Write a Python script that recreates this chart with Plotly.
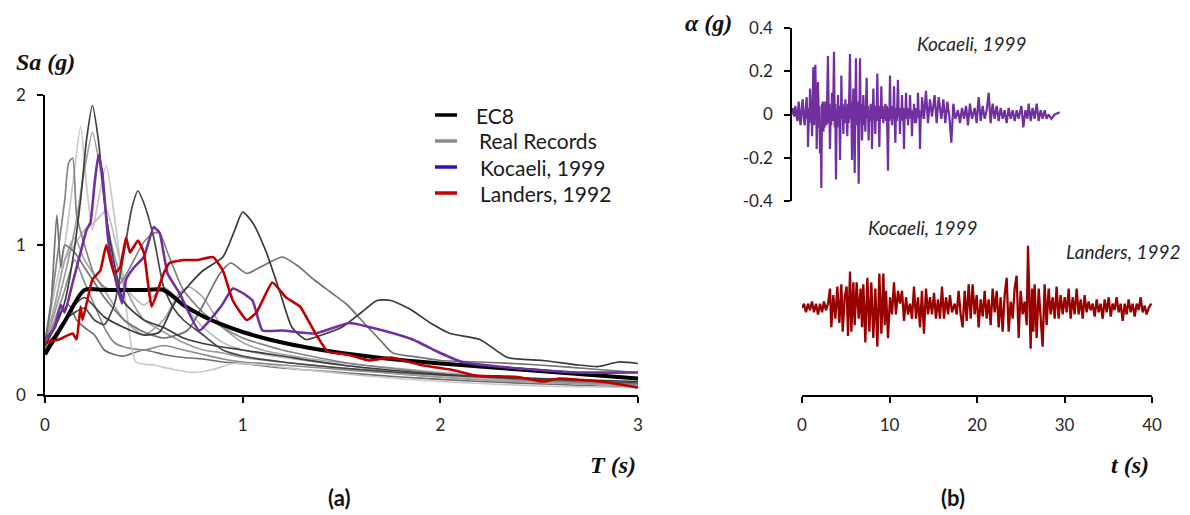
import plotly.graph_objects as go

# ---------------- Panel (a): elastic response spectra ----------------
# EC8 design spectrum
T_EC8 = [0, 0.1, 0.2, 0.3, 0.4, 0.5, 0.6, 0.7, 0.8, 0.9, 1.0, 1.1, 1.2, 1.3, 1.4, 1.5,
         1.6, 1.7, 1.8, 1.9, 2.0, 2.2, 2.4, 2.6, 2.8, 3.0]
SA_EC8 = [0.27, 0.49, 0.70, 0.70, 0.70, 0.70, 0.70, 0.60, 0.525, 0.467, 0.42, 0.382, 0.35,
          0.323, 0.30, 0.28, 0.263, 0.247, 0.233, 0.221, 0.21, 0.19, 0.17, 0.15, 0.13, 0.11]

# Real records (grey family)
REC1_T = [0, 0.05, 0.1, 0.14, 0.18, 0.21, 0.24, 0.27, 0.3, 0.34, 0.4, 0.5, 0.6, 0.7, 0.85,
          1.0, 1.2, 1.5, 1.8, 2.1, 2.5, 3.0]
REC1_SA = [0.33, 0.45, 0.62, 0.9, 1.3, 1.7, 1.93, 1.7, 1.3, 0.95, 0.62, 0.5, 0.45, 0.38, 0.33,
           0.3, 0.26, 0.2, 0.16, 0.13, 0.11, 0.09]

REC2_T = [0, 0.05, 0.1, 0.15, 0.2, 0.25, 0.3, 0.35, 0.4, 0.44, 0.47, 0.5, 0.55, 0.6, 0.65,
          0.7, 0.8, 0.9, 1.0, 1.2, 1.5, 1.8, 2.2, 2.6, 3.0]
REC2_SA = [0.33, 0.4, 0.5, 0.55, 0.58, 0.5, 0.47, 0.6, 0.95, 1.25, 1.36, 1.28, 1.05, 0.72,
           0.58, 0.5, 0.4, 0.3, 0.26, 0.22, 0.18, 0.15, 0.12, 0.1, 0.08]

REC3_T = [0, 0.05, 0.1, 0.15, 0.2, 0.3, 0.4, 0.5, 0.58, 0.65, 0.72, 0.8, 0.9, 0.96, 1.0,
          1.05, 1.12, 1.19, 1.25, 1.32, 1.4, 1.5, 1.6, 1.68, 1.75, 1.85, 1.95, 2.05, 2.2,
          2.34, 2.52, 2.7, 2.8, 2.9, 3.0]
REC3_SA = [0.3, 0.4, 0.5, 0.6, 0.65, 0.52, 0.45, 0.4, 0.42, 0.6, 0.72, 0.83, 0.92, 1.1, 1.22,
           1.15, 0.95, 0.68, 0.45, 0.37, 0.4, 0.45, 0.55, 0.63, 0.63, 0.57, 0.48, 0.41, 0.37,
           0.25, 0.23, 0.2, 0.19, 0.22, 0.21]

REC4_T = [0, 0.03, 0.06, 0.08, 0.1, 0.15, 0.2, 0.25, 0.3, 0.4, 0.5, 0.6, 0.72, 0.8, 0.88,
          0.94, 1.02, 1.1, 1.2, 1.28, 1.36, 1.45, 1.53, 1.6, 1.7, 1.76, 1.9, 2.0, 2.2, 2.5,
          2.8, 3.0]
REC4_SA = [0.35, 0.6, 1.2, 0.85, 1.0, 0.95, 0.85, 0.75, 0.65, 0.5, 0.42, 0.38, 0.43, 0.6,
           0.8, 0.88, 0.81, 0.86, 0.92, 0.86, 0.77, 0.68, 0.6, 0.5, 0.36, 0.28, 0.25, 0.23,
           0.22, 0.2, 0.17, 0.15]

REC5_T = [0, 0.04, 0.07, 0.1, 0.12, 0.14, 0.16, 0.2, 0.25, 0.3, 0.35, 0.4, 0.45, 0.5, 0.55,
          0.58, 0.62, 0.7, 0.8, 0.9, 1.0, 1.2, 1.5, 1.8, 2.2, 2.6, 3.0]
REC5_SA = [0.35, 0.7, 1.0, 1.3, 1.55, 1.58, 1.2, 1.0, 0.8, 0.72, 0.7, 0.78, 0.9, 1.02, 1.08,
           1.08, 0.95, 0.7, 0.55, 0.45, 0.38, 0.3, 0.22, 0.17, 0.12, 0.09, 0.07]

REC6_T = [0, 0.05, 0.1, 0.15, 0.2, 0.24, 0.28, 0.32, 0.38, 0.45, 0.5, 0.6, 0.7, 0.8, 0.9,
          1.0, 1.2, 1.5, 1.8, 2.2, 2.6, 3.0]
REC6_SA = [0.35, 0.55, 0.8, 1.1, 1.5, 1.75, 1.5, 1.1, 0.8, 0.6, 0.5, 0.42, 0.35, 0.3, 0.28,
           0.25, 0.22, 0.18, 0.14, 0.1, 0.08, 0.06]

REC7_T = [0, 0.05, 0.1, 0.14, 0.18, 0.21, 0.24, 0.27, 0.31, 0.35, 0.4, 0.46, 0.55, 0.65,
          0.75, 0.85, 0.95, 1.1, 1.3, 1.6, 2.0, 2.5, 3.0]
REC7_SA = [0.36, 0.7, 1.0, 1.4, 1.79, 1.4, 1.1, 1.3, 1.53, 1.2, 0.7, 0.22, 0.2, 0.17, 0.15,
           0.17, 0.21, 0.2, 0.17, 0.13, 0.09, 0.06, 0.05]

REC8_T = [0, 0.05, 0.1, 0.15, 0.2, 0.25, 0.31, 0.36, 0.42, 0.5, 0.6, 0.7, 0.8, 0.9, 1.0,
          1.2, 1.5, 1.8, 2.2, 2.6, 3.0]
REC8_SA = [0.35, 0.6, 0.9, 1.0, 1.1, 1.15, 1.23, 1.0, 0.7, 0.6, 0.72, 0.6, 0.45, 0.35, 0.3,
           0.25, 0.2, 0.15, 0.11, 0.08, 0.06]

REC9_T = [0, 0.05, 0.1, 0.15, 0.2, 0.25, 0.3, 0.35, 0.4, 0.5, 0.6, 0.7, 0.8, 0.9, 1.0, 1.2,
          1.4, 1.7, 2.0, 2.5, 3.0]
REC9_SA = [0.34, 0.5, 0.7, 0.9, 0.75, 0.6, 0.45, 0.35, 0.32, 0.3, 0.33, 0.3, 0.27, 0.24,
           0.22, 0.2, 0.18, 0.15, 0.12, 0.09, 0.07]

REC10_T = [0, 0.05, 0.1, 0.15, 0.2, 0.3, 0.4, 0.5, 0.6, 0.68, 0.73, 0.8, 0.9, 1.0, 1.1, 1.3,
           1.6, 2.0, 2.5, 3.0]
REC10_SA = [0.34, 0.6, 0.9, 1.05, 0.9, 0.7, 0.5, 0.4, 0.5, 0.68, 0.72, 0.65, 0.45, 0.35,
            0.3, 0.25, 0.2, 0.15, 0.1, 0.07]

REC11_T = [0, 0.04, 0.08, 0.12, 0.16, 0.2, 0.25, 0.3, 0.35, 0.4, 0.5, 0.6, 0.7, 0.8, 0.9,
           1.0, 1.2, 1.5, 1.8, 2.2, 2.6, 3.0]
REC11_SA = [0.32, 0.45, 0.55, 0.6, 0.5, 0.45, 0.4, 0.3, 0.27, 0.26, 0.3, 0.27, 0.25, 0.24,
            0.22, 0.21, 0.18, 0.15, 0.12, 0.09, 0.07, 0.05]

# Kocaeli 1999 spectrum
T_KOC = [0, 0.05, 0.08, 0.1, 0.14, 0.18, 0.21, 0.23, 0.25, 0.27, 0.29, 0.32, 0.35, 0.39,
         0.41, 0.45, 0.5, 0.55, 0.58, 0.62, 0.68, 0.78, 0.89, 0.95, 1.0, 1.05, 1.1, 1.2,
         1.37, 1.54, 1.71, 1.86, 2.0, 2.11, 2.37, 2.7, 3.0]
SA_KOC = [0.37, 0.45, 0.6, 0.55, 0.75, 0.95, 1.1, 1.15, 1.4, 1.6, 1.48, 1.03, 0.81, 0.61,
          0.77, 0.85, 0.92, 1.12, 1.08, 0.81, 0.68, 0.43, 0.59, 0.71, 0.68, 0.63, 0.43,
          0.43, 0.41, 0.48, 0.43, 0.37, 0.28, 0.22, 0.18, 0.15, 0.15]

# Landers 1992 spectrum
T_LAN = [0, 0.07, 0.14, 0.16, 0.18, 0.19, 0.24, 0.28, 0.31, 0.35, 0.38, 0.41, 0.43, 0.47,
         0.5, 0.54, 0.6, 0.63, 0.7, 0.77, 0.85, 0.9, 0.95, 1.02, 1.07, 1.15, 1.22, 1.29,
         1.36, 1.43, 1.53, 1.64, 1.75, 1.9, 2.05, 2.18, 2.39, 2.52, 2.6, 2.81, 3.0]
SA_LAN = [0.35, 0.37, 0.41, 0.37, 0.59, 0.5, 0.77, 0.83, 1.0, 0.81, 0.85, 1.05, 0.95,
          1.03, 0.95, 0.59, 0.81, 0.88, 0.9, 0.9, 0.92, 0.83, 0.63, 0.5, 0.55, 0.75, 0.65,
          0.59, 0.43, 0.29, 0.27, 0.23, 0.25, 0.2, 0.17, 0.13, 0.12, 0.09, 0.11, 0.09, 0.05]

# ---------------- Panel (b): acceleration time histories ----------------
# Kocaeli 1999 record, (time s, acceleration g)
KOC_ACC = [
    (0.00, 0.00), (0.15, 0.03), (0.25, -0.01), (0.38, 0.04), (0.50, 0.00), (0.61, -0.03),
    (0.70, 0.02), (0.76, 0.06), (0.88, -0.02), (0.99, -0.05), (1.10, 0.03), (1.22, 0.07),
    (1.33, -0.01), (1.45, -0.05), (1.56, 0.02), (1.68, 0.08), (1.76, -0.02), (1.80, 0.03),
    (1.83, -0.15), (1.94, 0.02), (1.99, -0.04), (2.06, 0.12), (2.17, 0.01), (2.22, 0.05),
    (2.29, -0.10), (2.37, 0.06), (2.40, -0.03), (2.44, 0.22), (2.53, -0.05), (2.60, 0.08),
    (2.67, 0.23), (2.75, 0.02), (2.78, 0.06), (2.82, -0.16), (2.90, 0.03), (2.93, -0.02),
    (2.97, 0.15), (3.08, -0.06), (3.13, 0.04), (3.20, -0.18), (3.27, -0.05), (3.31, -0.12),
    (3.35, -0.34), (3.43, 0.05), (3.47, -0.03), (3.52, 0.06), (3.60, -0.08), (3.66, 0.04),
    (3.73, -0.06), (3.80, 0.06), (3.88, -0.02), (3.94, -0.05), (4.02, 0.08), (4.11, 0.27),
    (4.20, -0.04), (4.26, 0.05), (4.34, -0.16), (4.42, 0.02), (4.48, -0.05), (4.57, 0.10),
    (4.65, -0.03), (4.72, 0.06), (4.80, 0.29), (4.88, -0.06), (4.94, 0.05), (5.03, -0.30),
    (5.11, 0.02), (5.17, -0.06), (5.26, 0.09), (5.34, -0.05), (5.41, 0.04), (5.49, -0.21),
    (5.56, 0.03), (5.60, -0.02), (5.64, 0.18), (5.72, -0.02), (5.79, 0.05), (5.87, -0.09),
    (5.95, 0.04), (6.02, -0.04), (6.10, 0.07), (6.18, -0.04), (6.25, 0.03), (6.32, -0.10),
    (6.40, 0.05), (6.48, -0.04), (6.63, 0.28), (6.71, -0.02), (6.77, 0.06), (6.86, -0.21),
    (6.93, 0.02), (6.97, -0.03), (7.01, 0.12), (7.09, -0.04), (7.12, 0.02), (7.16, -0.27),
    (7.24, 0.04), (7.27, -0.02), (7.31, 0.26), (7.39, -0.03), (7.43, 0.04), (7.47, -0.05),
    (7.53, 0.06), (7.62, -0.32), (7.70, 0.03), (7.73, -0.02), (7.77, 0.26), (7.85, -0.03),
    (7.92, 0.05), (8.00, -0.12), (8.07, 0.03), (8.11, -0.03), (8.15, 0.09), (8.24, -0.05),
    (8.30, 0.04), (8.38, -0.08), (8.46, 0.03), (8.53, 0.17), (8.61, -0.02), (8.68, 0.04),
    (8.76, -0.12), (8.84, 0.02), (8.91, -0.03), (8.99, 0.05), (9.05, -0.02), (9.09, 0.03),
    (9.14, -0.16), (9.22, 0.03), (9.26, -0.02), (9.30, 0.12), (9.38, -0.02), (9.45, 0.04),
    (9.52, -0.09), (9.60, 0.03), (9.67, -0.03), (9.75, 0.19), (9.83, -0.02), (9.90, 0.04),
    (9.98, -0.15), (10.06, 0.03), (10.13, -0.02), (10.21, 0.13), (10.29, -0.02),
    (10.36, 0.04), (10.44, -0.04), (10.52, 0.02), (10.60, -0.02), (10.67, 0.05),
    (10.76, -0.03), (10.84, 0.04), (10.97, -0.26), (11.05, 0.03), (11.12, -0.03),
    (11.20, 0.18), (11.28, -0.02), (11.35, 0.04), (11.43, -0.05), (11.50, 0.03),
    (11.58, -0.02), (11.66, 0.13), (11.72, 0.00), (11.81, -0.13), (11.90, 0.03),
    (11.98, -0.03), (12.11, 0.16), (12.20, -0.01), (12.26, 0.03), (12.34, -0.09),
    (12.42, 0.03), (12.50, -0.02), (12.57, 0.09), (12.65, -0.03), (12.72, 0.03),
    (12.80, -0.16), (12.88, 0.02), (12.95, -0.02), (13.03, 0.10), (13.11, -0.02),
    (13.18, 0.03), (13.26, -0.05), (13.36, 0.02), (13.42, -0.01), (13.49, 0.09),
    (13.58, -0.02), (13.64, 0.02), (13.71, -0.10), (13.80, 0.02), (13.87, -0.02),
    (13.94, 0.05), (14.05, -0.04), (14.10, 0.03), (14.17, -0.04), (14.28, 0.02),
    (14.33, -0.01), (14.40, 0.10), (14.50, -0.02), (14.55, 0.02), (14.63, -0.16),
    (14.72, 0.01), (14.78, -0.02), (14.86, 0.08), (15.09, -0.02), (15.31, 0.11),
    (15.54, -0.04), (15.77, 0.07), (16.00, -0.01), (16.30, 0.09), (16.53, -0.04),
    (16.76, 0.08), (17.07, -0.02), (17.30, 0.07), (17.52, -0.04), (17.75, 0.06),
    (17.98, -0.01), (18.21, -0.13), (18.44, 0.05), (18.67, -0.02), (18.97, 0.02),
    (19.20, -0.04), (19.43, 0.03), (19.66, -0.02), (19.89, 0.04), (20.11, -0.05),
    (20.34, 0.05), (20.57, -0.02), (20.88, 0.03), (21.10, -0.04), (21.33, 0.08),
    (21.56, -0.03), (21.79, 0.04), (22.02, -0.02), (22.25, 0.02), (22.48, 0.10),
    (22.70, -0.04), (22.93, 0.05), (23.16, -0.02), (23.39, 0.04), (23.62, -0.03),
    (23.85, 0.03), (24.08, -0.02), (24.30, 0.02), (24.53, -0.04), (24.76, 0.03),
    (24.99, -0.02), (25.22, 0.02), (25.45, -0.03), (25.68, 0.02), (25.90, -0.02),
    (26.21, 0.04), (26.44, -0.06), (26.67, 0.02), (26.90, -0.02), (27.05, 0.05),
    (27.28, -0.03), (27.50, 0.03), (27.73, -0.02), (27.96, 0.05), (28.19, -0.03),
    (28.42, 0.02), (28.65, -0.02), (28.88, 0.02), (29.10, -0.02), (29.33, 0.00),
    (29.64, -0.02), (30.02, 0.00), (30.59, 0.01),
]
T_KOC_ACC = [p[0] for p in KOC_ACC]
A_KOC = [p[1] for p in KOC_ACC]

# Landers 1992 record
T_LAN_ACC = [0.00, 0.23, 0.46, 0.69, 0.91, 1.14, 1.37, 1.60, 1.83, 2.06, 2.29, 2.51, 2.74,
             2.97, 3.20, 3.35, 3.58, 3.81, 4.04, 4.27, 4.50, 4.65, 4.88, 5.10, 5.26, 5.49,
             5.64, 5.87, 6.02, 6.25, 6.48, 6.70, 6.86, 7.01, 7.24, 7.47, 7.70, 7.92, 8.15,
             8.38, 8.61, 8.84, 9.07, 9.30, 9.45, 9.60, 9.83, 10.06, 10.29, 10.51, 10.74,
             10.97, 11.20, 11.43, 11.66, 11.89, 12.11, 12.34, 12.57, 12.80, 13.03, 13.26,
             13.49, 13.71, 13.94, 14.17, 14.40, 14.63, 14.86, 15.09, 15.31, 15.54, 15.77,
             16.00, 16.23, 16.46, 16.69, 16.91, 17.14, 17.45, 17.68, 17.90, 18.13, 18.36,
             18.59, 18.82, 19.05, 19.28, 19.50, 19.73, 19.96, 20.19, 20.42, 20.65, 20.88,
             21.10, 21.33, 21.56, 21.79, 22.02, 22.25, 22.48, 22.70, 22.93, 23.16, 23.39,
             23.62, 23.85, 24.08, 24.30, 24.53, 24.76, 24.99, 25.22, 25.45, 25.68, 25.83,
             25.98, 26.13, 26.29, 26.44, 26.59, 26.82, 27.05, 27.28, 27.50, 27.73, 27.96,
             28.19, 28.42, 28.65, 28.88, 29.10, 29.33, 29.56, 29.79, 30.02, 30.25, 30.48,
             30.70, 30.93, 31.16, 31.39, 31.62, 31.85, 32.08, 32.30, 32.53, 32.76, 32.99,
             33.22, 33.45, 33.68, 33.90, 34.13, 34.36, 34.59, 34.82, 35.05, 35.28, 35.50,
             35.73, 35.96, 36.19, 36.42, 36.65, 36.88, 37.10, 37.33, 37.56, 37.79, 38.02,
             38.25, 38.48, 38.70, 38.93, 39.16, 39.39, 39.62, 39.92]
A_LAN = [0.00, 0.02, -0.02, 0.02, -0.01, 0.03, -0.02, 0.02, -0.03, 0.02, -0.02, 0.03, -0.01,
         0.02, 0.09, -0.09, 0.06, -0.05, 0.10, -0.07, 0.11, -0.11, 0.05, 0.10, -0.13, 0.17,
         -0.11, 0.12, -0.08, 0.12, -0.05, 0.09, -0.09, 0.11, -0.16, 0.14, -0.11, 0.12, -0.14,
         0.09, -0.18, 0.16, -0.12, 0.16, -0.08, 0.08, -0.14, 0.05, -0.03, 0.12, -0.03, 0.08,
         0.02, 0.08, -0.06, 0.05, -0.03, 0.02, -0.05, 0.10, -0.05, 0.05, -0.09, 0.08, -0.12,
         0.09, -0.03, 0.05, -0.03, 0.07, -0.05, 0.04, -0.05, 0.10, -0.05, 0.05, -0.03, 0.06,
         -0.02, 0.02, -0.03, 0.08, -0.03, -0.09, 0.08, -0.06, 0.11, -0.05, 0.11, -0.03, 0.06,
         -0.09, 0.04, -0.04, 0.08, -0.05, 0.04, -0.08, 0.09, -0.02, 0.08, -0.09, 0.05, -0.11,
         0.06, 0.14, -0.11, 0.03, -0.05, 0.09, 0.15, -0.14, 0.08, -0.03, 0.03, -0.08, 0.29,
         -0.03, -0.19, 0.09, -0.11, 0.11, -0.14, 0.09, -0.03, -0.18, 0.11, -0.08, 0.09,
         -0.03, 0.05, -0.05, 0.10, -0.05, 0.06, -0.03, 0.05, -0.02, 0.09, -0.05, 0.05, -0.03,
         0.09, -0.03, 0.04, -0.05, 0.06, -0.02, 0.03, -0.01, 0.02, -0.04, 0.04, -0.02, 0.02,
         -0.05, 0.04, -0.02, 0.05, -0.04, 0.02, -0.01, 0.05, -0.02, 0.02, -0.06, 0.02, -0.03,
         0.04, -0.02, 0.02, -0.04, 0.02, -0.01, 0.05, -0.02, 0.01, -0.03, 0.00, 0.02]

# ---------------- styling ----------------
SANS = "Lato, Calibri, sans-serif"
SERIF_BI = "Liberation Serif, Times New Roman, serif"
TICK_FONT = dict(family=SANS, size=17, color="#262626")
W, H = 1190, 515


def px_x(p):
    return p / W


def px_y(p):
    return (H - p) / H


fig = go.Figure()

grey_records = [
    (REC11_T, REC11_SA, "#6e6e6e"),
    (REC9_T, REC9_SA, "#8c8c8c"),
    (REC7_T, REC7_SA, "#c8c8c8"),
    (REC8_T, REC8_SA, "#bdbdbd"),
    (REC10_T, REC10_SA, "#a6a6a6"),
    (REC6_T, REC6_SA, "#9e9e9e"),
    (REC5_T, REC5_SA, "#858585"),
    (REC4_T, REC4_SA, "#737373"),
    (REC2_T, REC2_SA, "#474747"),
    (REC1_T, REC1_SA, "#3d3d3d"),
    (REC3_T, REC3_SA, "#3a3a3a"),
]
for t, sa, col in grey_records:
    fig.add_trace(go.Scatter(x=t, y=sa, mode="lines", line=dict(color=col, width=1.7,
                             shape="spline", smoothing=0.6), showlegend=False,
                             xaxis="x", yaxis="y"))

fig.add_trace(go.Scatter(x=T_EC8, y=SA_EC8, mode="lines", showlegend=False,
                         line=dict(color="black", width=4, shape="spline", smoothing=0.8),
                         xaxis="x", yaxis="y"))
fig.add_trace(go.Scatter(x=T_KOC, y=SA_KOC, mode="lines", showlegend=False,
                         line=dict(color="#7030a0", width=2.6, shape="spline", smoothing=0.4),
                         xaxis="x", yaxis="y"))
fig.add_trace(go.Scatter(x=T_LAN, y=SA_LAN, mode="lines", showlegend=False,
                         line=dict(color="#c00000", width=2.6, shape="spline", smoothing=0.4),
                         xaxis="x", yaxis="y"))

# time histories
fig.add_trace(go.Scatter(x=T_KOC_ACC, y=A_KOC, mode="lines", showlegend=False,
                         line=dict(color="#7030a0", width=2.2), xaxis="x2", yaxis="y2"))
fig.add_trace(go.Scatter(x=T_LAN_ACC, y=A_LAN, mode="lines", showlegend=False,
                         line=dict(color="#990000", width=2.3), xaxis="x3", yaxis="y3"))

axis_common = dict(showgrid=False, zeroline=False, showline=True, linecolor="black",
                   linewidth=1.5, ticks="outside", ticklen=6, tickwidth=1.5,
                   tickcolor="black", tickfont=TICK_FONT, automargin=False)

fig.update_layout(
    width=W, height=H, autosize=False, margin=dict(l=0, r=0, t=0, b=0, pad=0),
    paper_bgcolor="white", plot_bgcolor="white", showlegend=False,
    xaxis=dict(domain=[px_x(45), px_x(638)], range=[0, 3], tickvals=[0, 1, 2, 3],
               anchor="y", ticklabelstandoff=8, **axis_common),
    yaxis=dict(domain=[px_y(395), px_y(95)], range=[0, 2], tickvals=[0, 1, 2],
               anchor="x", ticklabelstandoff=8, **axis_common),
    xaxis2=dict(domain=[px_x(792), px_x(1142)], range=[0, 40], visible=False,
                anchor="y2"),
    yaxis2=dict(domain=[px_y(201), px_y(28)], range=[-0.4, 0.4],
                tickvals=[-0.4, -0.2, 0, 0.2, 0.4],
                ticktext=["-0.4", "-0.2", "0", "0.2", "0.4"],
                anchor="x2", ticklabelstandoff=8, **axis_common),
    xaxis3=dict(domain=[px_x(802), px_x(1152)], range=[0, 40],
                tickvals=[0, 10, 20, 30, 40], anchor="y3", ticklabelstandoff=8,
                **axis_common),
    yaxis3=dict(domain=[px_y(395), px_y(230)], range=[-0.405, 0.363], visible=False,
                anchor="x3"),
)

# legend of panel (a)
legend_items = [("EC8", "black", 115, 474), ("Real Records", "#8c8c8c", 141, 477),
                ("Kocaeli, 1999", "#2e14b8", 167, 478), ("Landers, 1992", "#cc0000", 193, 478)]
for label, col, yy, xt in legend_items:
    fig.add_shape(type="line", xref="paper", yref="paper", x0=px_x(435), x1=px_x(457),
                  y0=px_y(yy), y1=px_y(yy), line=dict(color=col, width=3.5))
    fig.add_annotation(text=label, xref="paper", yref="paper", x=px_x(xt), y=px_y(yy),
                       xanchor="left", yanchor="middle", showarrow=False,
                       font=dict(family=SANS, size=21, color="#1a1a1a"))

texts = [
    ("<b><i>Sa (g)</i></b>", 14, 62, "left", dict(family=SERIF_BI, size=24, color="#111")),
    ("<b><i>T (s)</i></b>", 638, 465, "right", dict(family=SERIF_BI, size=24, color="#111")),
    ("<b><i>α (g)</i></b>", 734, 23, "right", dict(family=SERIF_BI, size=24, color="#111")),
    ("<b><i>t (s)</i></b>", 1151, 465, "right", dict(family=SERIF_BI, size=24, color="#111")),
    ("<b>(a)</b>", 339, 497, "center", dict(family=SANS, size=22, color="#111")),
    ("<b>(b)</b>", 953, 497, "center", dict(family=SANS, size=22, color="#111")),
    ("<i>Kocaeli, 1999</i>", 972, 43, "center", dict(family=SANS, size=19, color="#262626")),
    ("<i>Kocaeli, 1999</i>", 923, 227, "center", dict(family=SANS, size=19, color="#262626")),
    ("<i>Landers, 1992</i>", 1123, 252, "center", dict(family=SANS, size=19, color="#262626")),
]
for txt, xx, yy, anc, fnt in texts:
    fig.add_annotation(text=txt, xref="paper", yref="paper", x=px_x(xx), y=px_y(yy),
                       xanchor=anc, yanchor="middle", showarrow=False, font=fnt)

fig.write_html(
    "out.html",
    post_script=("document.documentElement.style.margin='0';"
                 "document.body.style.margin='0';"
                 "document.body.style.overflow='hidden';"
                 "document.documentElement.style.overflow='hidden';"),
)
